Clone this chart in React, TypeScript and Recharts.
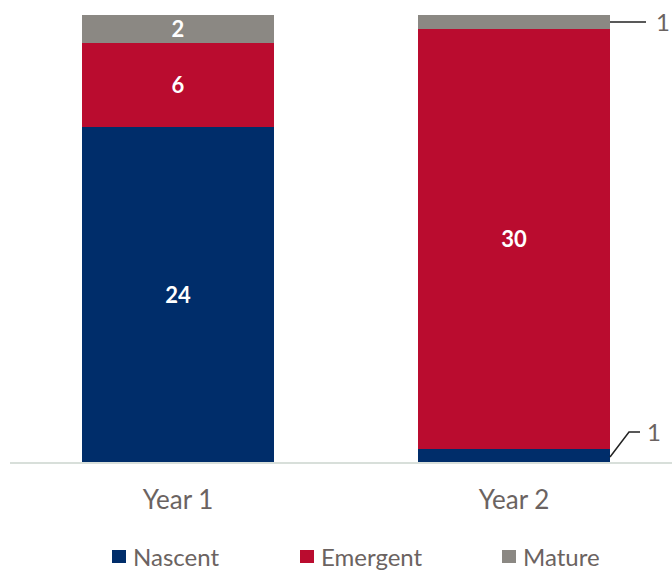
import { BarChart, Bar, XAxis, YAxis, Legend, LabelList } from 'recharts';

const years = ['Year 1', 'Year 2'];
const nascent = [24, 1];
const emergent = [6, 30];
const mature = [2, 1];

const seriesNames = ['Nascent', 'Emergent', 'Mature'];
const colors = ['#002d6a', '#ba0c2f', '#8b8883'];

const data = years.map((year, i) => ({
  year,
  Nascent: nascent[i],
  Emergent: emergent[i],
  Mature: mature[i],
}));

const FONT = 'Lato, "Open Sans", sans-serif';
const GREY_TEXT = '#6b6361';

// labels inside the bar, or outside with a leader line when the segment is thin
const makeLabel = (series: string) => (props: any) => {
  const { x, y, width, height, value } = props;
  const bx = Number(x);
  const by = Number(y);
  const w = Number(width);
  const h = Number(height);
  if (h < 20) {
    const right = bx + w;
    if (series === 'Nascent') {
      return (
        <g>
          <polyline
            points={`${right},${by + h - 6} ${right + 19},${by - 17} ${right + 30},${by - 17}`}
            fill="none"
            stroke="#222"
            strokeWidth={1.5}
          />
          <text x={right + 44} y={by - 17} dy="0.36em" textAnchor="middle" fill={GREY_TEXT} fontSize={24} fontFamily={FONT}>
            {value}
          </text>
        </g>
      );
    }
    return (
      <g>
        <line x1={right} y1={by + h / 2} x2={right + 36} y2={by + h / 2} stroke="#222" strokeWidth={1.5} />
        <text x={right + 53} y={by + h / 2} dy="0.36em" textAnchor="middle" fill={GREY_TEXT} fontSize={24} fontFamily={FONT}>
          {value}
        </text>
      </g>
    );
  }
  return (
    <text
      x={bx + w / 2}
      y={by + h / 2}
      dy="0.36em"
      textAnchor="middle"
      fill="#fff"
      fontSize={22}
      fontWeight={700}
      fontFamily={FONT}
    >
      {value}
    </text>
  );
};

const YearTick = (props: any) => {
  const { x, y, payload } = props;
  return (
    <text x={x} y={y} dy={46} textAnchor="middle" fill={GREY_TEXT} fontSize={26} fontFamily={FONT}>
      {payload.value}
    </text>
  );
};

const legendWidths = [188, 202, 98];

const LegendContent = () => (
  <div style={{ height: 40, display: 'flex', alignItems: 'flex-end', paddingLeft: 112, fontFamily: FONT }}>
    {seriesNames.map((name, i) => (
      <div key={name} style={{ width: legendWidths[i], display: 'flex', alignItems: 'center', height: 30 }}>
        <span style={{ width: 14, height: 13, background: colors[i], display: 'inline-block', marginRight: 7 }} />
        <span style={{ fontSize: 24, color: GREY_TEXT }}>{name}</span>
      </div>
    ))}
  </div>
);

export default function App() {
  return (
    <div style={{ position: 'absolute', left: 0, top: 0, width: 672, height: 571, overflow: 'hidden', background: '#fff' }}>
      <BarChart width={692} height={571} data={data} margin={{ top: 15, right: 10, bottom: 0, left: 10 }}>
        <YAxis hide domain={[0, 32]} />
        <XAxis
          dataKey="year"
          tickLine={false}
          tickSize={0}
          tickMargin={0}
          height={68}
          axisLine={{ stroke: '#d8dfda', strokeWidth: 2 }}
          tick={<YearTick />}
        />
        <Legend
          verticalAlign="bottom"
          content={<LegendContent />}
          wrapperStyle={{ left: 0, width: 672 }}
        />
        {seriesNames.map((name, i) => (
          <Bar key={name} dataKey={name} stackId="a" fill={colors[i]} barSize={192} isAnimationActive={false}>
            <LabelList dataKey={name} content={makeLabel(name)} />
          </Bar>
        ))}
      </BarChart>
    </div>
  );
}
